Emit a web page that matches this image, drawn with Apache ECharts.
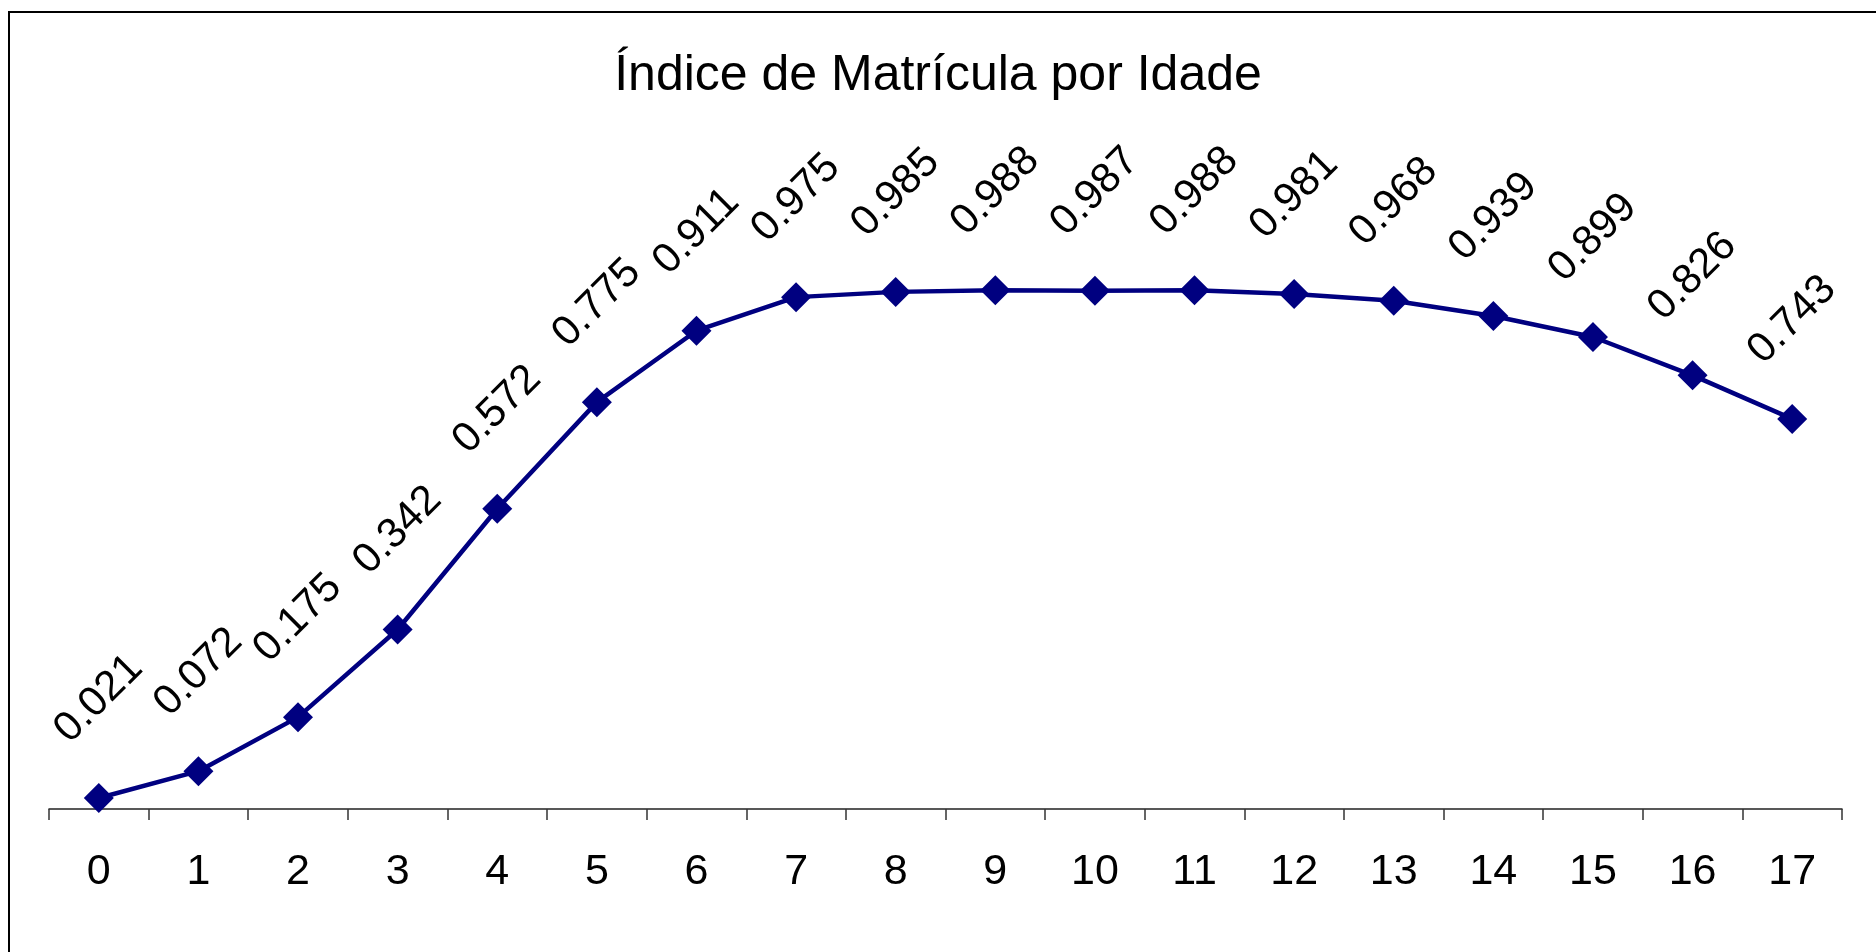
<!DOCTYPE html>
<html>
<head>
<meta charset="utf-8">
<script src="https://cdn.jsdelivr.net/npm/echarts@6/dist/echarts.min.js"></script>
<style>
html,body{margin:0;padding:0;background:#fff;}
#chart{width:1876px;height:952px;}
</style>
</head>
<body>
<div id="chart"></div>
<script>
const titleText = 'Índice de Matrícula por Idade';
const ages = ['0','1','2','3','4','5','6','7','8','9','10','11','12','13','14','15','16','17'];
const enrolment = [0.021,0.072,0.175,0.342,0.572,0.775,0.911,0.975,0.985,0.988,0.987,0.988,0.981,0.968,0.939,0.899,0.826,0.743];

const FONT = "'Liberation Sans', Arial, sans-serif";
const chart = echarts.init(document.getElementById('chart'), null, {renderer:'canvas'});
chart.setOption({
  animation: false,
  backgroundColor: '#ffffff',
  title: {
    text: titleText,
    left: 'center',
    top: 51,
    padding: 0,
    textStyle: {fontFamily: FONT, fontSize: 50, fontWeight: 'normal', color: '#000'}
  },
  graphic: [{
    type: 'rect',
    shape: {x: 9, y: 12, width: 1900, height: 1000},
    style: {fill: 'none', stroke: '#000', lineWidth: 2},
    silent: true, z: -1
  }],
  grid: {left: 49, right: 34, top: 179, bottom: 143, containLabel: false},
  xAxis: {
    type: 'category',
    data: ages,
    boundaryGap: true,
    axisLine: {show: true, lineStyle: {color: '#222', width: 1.5}},
    axisTick: {show: true, length: 11, inside: false, lineStyle: {color: '#333', width: 1.5}},
    axisLabel: {fontFamily: FONT, fontSize: 43, color: '#000', margin: 42, interval: 0},
    splitLine: {show: false}
  },
  yAxis: {
    type: 'value',
    min: 0, max: 1.2,
    show: false,
    splitLine: {show: false}
  },
  series: [{
    type: 'line',
    data: enrolment,
    symbol: 'diamond',
    symbolSize: 30,
    lineStyle: {color: '#000080', width: 4.5},
    itemStyle: {color: '#000080'},
    label: {
      show: true,
      position: 'top',
      distance: 84,
      rotate: 45,
      align: 'center',
      verticalAlign: 'middle',
      fontFamily: FONT,
      fontSize: 42,
      color: '#000',
      formatter: p => p.value.toFixed(3)
    }
  }]
});
</script>
</body>
</html>
